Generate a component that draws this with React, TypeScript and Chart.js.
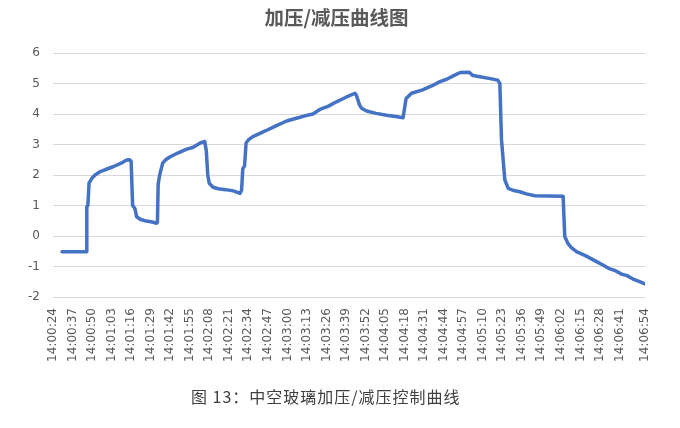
import React, { useEffect, useRef } from "react";
import { Chart, registerables } from "chart.js";

Chart.register(...registerables);

const TITLE = "加压/减压曲线图";
const CAPTION = "图 13：中空玻璃加压/减压控制曲线";

// elapsed seconds since 14:00:24
const seconds = [
  6, 22, 22.5, 23.2, 24, 26, 28, 31, 35, 40, 45, 49, 51, 52, 53, 54.5, 55.7, 58, 62, 66, 69, 69.5,
  70, 71, 73, 75, 78, 83, 89, 93, 98, 101, 102, 103, 104, 106.5, 110, 115, 120, 124.4, 125.5,
  126.3, 127.5, 128.5, 130, 133, 137, 142, 148, 155.5, 162, 170, 173, 177.6, 183, 188.7, 195,
  201, 202, 204, 205.4, 208.7, 215, 222, 229, 233, 234, 235, 238.6, 246, 252, 257.5, 262, 266.4,
  271, 277, 279.5, 285, 291, 296, 297.4, 298.5, 300.7, 303, 306, 310.7, 315, 320.7, 330, 339.5,
  340.6, 342.9, 345, 348.4, 355, 361.7, 366, 370.6, 374, 378.4, 382, 386, 390, 394,
];

const pressure = [
  -0.52, -0.52, 0.96, 1.0, 1.74, 1.9, 2.0, 2.1, 2.18, 2.27, 2.38, 2.49, 2.5, 2.45, 1.0, 0.9, 0.63,
  0.55, 0.49, 0.46, 0.42, 0.45, 1.7, 2.0, 2.39, 2.5, 2.6, 2.72, 2.85, 2.9, 3.05, 3.1, 2.8, 2.0,
  1.73, 1.6, 1.55, 1.52, 1.48, 1.4, 1.5, 2.2, 2.3, 3.05, 3.15, 3.26, 3.35, 3.46, 3.6, 3.77, 3.86,
  3.97, 4.0, 4.15, 4.25, 4.4, 4.55, 4.68, 4.6, 4.3, 4.19, 4.1, 4.02, 3.96, 3.91, 3.88, 4.2, 4.51,
  4.68, 4.79, 4.92, 5.06, 5.14, 5.25, 5.36, 5.37, 5.26, 5.21, 5.16, 5.11, 5.0, 3.15, 1.84, 1.56,
  1.5, 1.45, 1.38, 1.32, 1.31, 1.3, -0.02, -0.26, -0.38, -0.51, -0.66, -0.84, -0.95, -1.08, -1.13,
  -1.25, -1.3, -1.41, -1.49, -1.57,
];

const tickLabels = [
  "14:00:24", "14:00:37", "14:00:50", "14:01:03", "14:01:16", "14:01:29", "14:01:42", "14:01:55",
  "14:02:08", "14:02:21", "14:02:34", "14:02:47", "14:03:00", "14:03:13", "14:03:26", "14:03:39",
  "14:03:52", "14:04:05", "14:04:18", "14:04:31", "14:04:44", "14:04:57", "14:05:10", "14:05:23",
  "14:05:36", "14:05:49", "14:06:02", "14:06:15", "14:06:28", "14:06:41", "14:06:54",
];

const TICK_STEP = 13;
const X_MAX = 394;

export default function App() {
  const ref = useRef<HTMLCanvasElement | null>(null);

  useEffect(() => {
    if (!ref.current) return;
    const chart = new Chart(ref.current, {
      type: "line",
      data: {
        datasets: [
          {
            data: seconds.map((s, i) => ({ x: s, y: pressure[i] })),
            borderColor: "#4472C4",
            borderWidth: 3.5,
            pointRadius: 0,
            tension: 0,
            fill: false,
            borderJoinStyle: "round",
            borderCapStyle: "round",
          },
        ],
      },
      options: {
        animation: false,
        responsive: false,
        layout: { autoPadding: false, padding: { left: 28, right: 35, top: 0, bottom: 65 } },
        plugins: {
          legend: { display: false },
          tooltip: { enabled: false },
          title: {
            display: true,
            text: TITLE,
            color: "#595959",
            font: { family: "'Noto Sans CJK SC', sans-serif", size: 19.5, weight: "bold" },
            padding: { top: 6, bottom: 23.6 },
          },
        },
        scales: {
          x: {
            type: "linear",
            min: 0,
            max: X_MAX,
            grid: { display: false, drawTicks: false },
            border: { display: false },
            afterFit: (s: any) => {
              s.height = 66;
            },
            ticks: {
              stepSize: TICK_STEP,
              autoSkip: false,
              minRotation: 90,
              maxRotation: 90,
              padding: 11,
              color: "#595959",
              font: { family: "'DejaVu Sans', sans-serif", size: 12 },
              callback: (v: any) => tickLabels[Math.round(Number(v) / TICK_STEP)] ?? "",
            },
          },
          y: {
            min: -2,
            max: 6,
            grid: { color: "#d9d9d9", lineWidth: 1, drawTicks: false },
            border: { display: false },
            afterFit: (s: any) => {
              s.width = 25;
            },
            ticks: {
              stepSize: 1,
              padding: 13,
              color: "#595959",
              font: { family: "'DejaVu Sans', sans-serif", size: 12 },
            },
          },
        },
      },
    });
    return () => chart.destroy();
  }, []);

  return (
    <div style={{ position: "absolute", left: 0, top: 0, width: 680, height: 428, background: "#fff" }}>
      <canvas ref={ref} width={680} height={428} style={{ display: "block" }} />
      <div
        style={{
          position: "absolute",
          left: 191,
          top: 385,
          fontFamily: "'Noto Sans CJK SC', sans-serif",
          fontSize: 16,
          letterSpacing: "1px",
          color: "#404040",
          whiteSpace: "nowrap",
          lineHeight: "22px",
        }}
      >
        {CAPTION}
      </div>
    </div>
  );
}
